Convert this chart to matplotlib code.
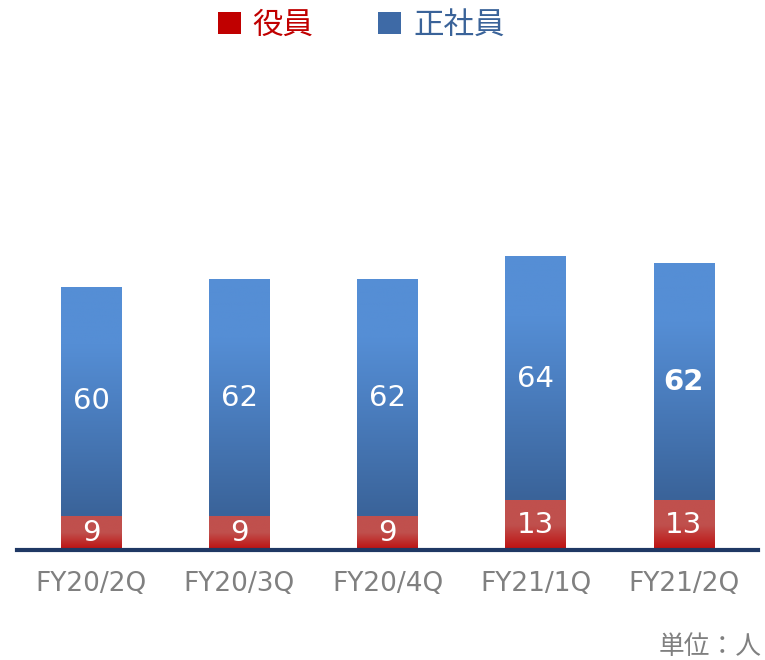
import numpy as np
import matplotlib.pyplot as plt
from matplotlib.colors import LinearSegmentedColormap
from matplotlib.patches import Patch

plt.rcParams['font.family'] = ['DejaVu Sans', 'Noto Sans CJK JP']

quarters = ["FY20/2Q", "FY20/3Q", "FY20/4Q", "FY21/1Q", "FY21/2Q"]
officers = [9, 9, 9, 13, 13]        # 役員
employees = [60, 62, 62, 64, 62]    # 正社員

blue_cmap = LinearSegmentedColormap.from_list("b", [(0, "#3A6399"), (0.5, "#4C80C2"), (0.75, "#558ED5"), (1, "#558ED5")])
red_cmap = LinearSegmentedColormap.from_list("r", [(0, "#BE0E0E"), (0.5, "#C0504D"), (1, "#C0504D")])

fig = plt.figure(figsize=(7.65, 6.6), dpi=100)
ax = fig.add_axes([17/765, 1 - 550/660, 741/765, 480/660])

w = 0.41
grad = np.linspace(0, 1, 256).reshape(-1, 1)
x = np.arange(len(quarters))
for i in x:
    r = officers[i]
    b = employees[i]
    ax.imshow(grad, cmap=red_cmap, origin="lower", aspect="auto",
              extent=(i - w/2, i + w/2, 0, r), zorder=2)
    ax.imshow(grad, cmap=blue_cmap, origin="lower", aspect="auto",
              extent=(i - w/2, i + w/2, r, r + b), zorder=2)
    ax.text(i, r/2, str(r), color="white", ha="center", va="center", fontsize=21, zorder=3)
    ax.text(i, r + b/2, str(b), color="white", ha="center", va="center", fontsize=21,
            fontweight="bold" if i == len(x) - 1 else "normal", zorder=3)

ax.set_xlim(-0.5, 4.5)
ax.set_ylim(0, 126)
ax.set_xticks(x)
ax.set_xticklabels(quarters, color="#808080", fontsize=19)
ax.tick_params(axis="x", length=0, pad=15)
ax.set_yticks([])
for s in ["top", "right", "left"]:
    ax.spines[s].set_visible(False)
ax.spines["bottom"].set_color("#1F3864")
ax.spines["bottom"].set_linewidth(3)
ax.spines["bottom"].set_zorder(4)

handles = [Patch(facecolor="#C00000", edgecolor="none"), Patch(facecolor="#3E6AA6", edgecolor="none")]
leg = fig.legend(handles, ["役員", "正社員"], loc="center", bbox_to_anchor=(0.472, 0.962), ncol=2,
                 frameon=False, handlelength=0.75, handleheight=0.75,
                 handletextpad=0.4, columnspacing=2.1,
                 prop={"family": ["Noto Sans CJK JP"], "size": 22})
leg.get_texts()[0].set_color("#C00000")
leg.get_texts()[1].set_color("#3A6399")

fig.text(0.995, 1 - 647/660, "単位：人", ha="right", va="center", color="#808080",
         fontsize=18.5, family=["Noto Sans CJK JP"])

fig.savefig("out.png", dpi=100)
